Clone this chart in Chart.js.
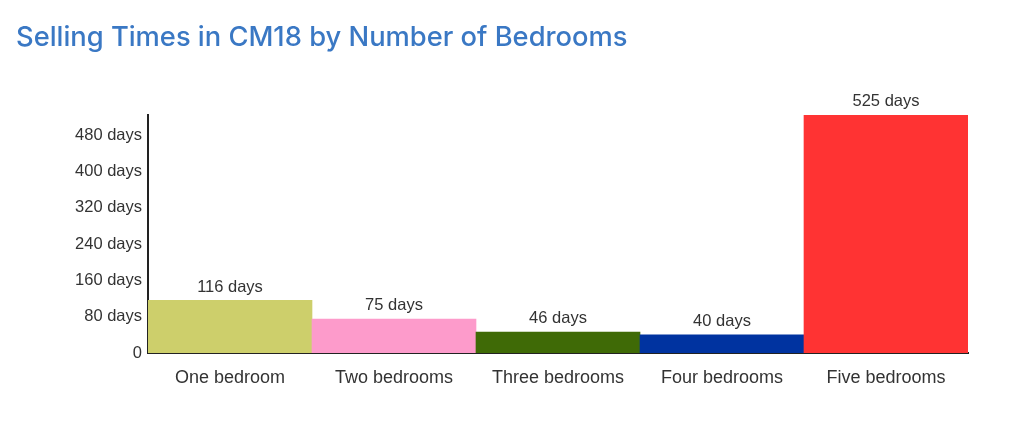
<!DOCTYPE html>
<html>
<head>
<meta charset="utf-8">
<script src="https://cdn.jsdelivr.net/npm/chart.js@4"></script>
<style>
html,body{margin:0;padding:0;background:#fff;}
#wrap{position:relative;width:1024px;height:447px;}
h1{position:absolute;left:16px;top:20px;margin:0;font-family:Inter,"Open Sans",sans-serif;font-weight:500;font-size:27.3px;color:#3a78c4;letter-spacing:0px;}
#c{position:absolute;left:0;top:0;}
</style>
</head>
<body>
<div id="wrap">
<canvas id="c" width="1024" height="447"></canvas>
<h1>Selling Times in CM18 by Number of Bedrooms</h1>
</div>
<script>
const categories = ["One bedroom", "Two bedrooms", "Three bedrooms", "Four bedrooms", "Five bedrooms"];
const sellingDays = [116, 75, 46, 40, 525];
const barColors = ["#cdcf6b", "#fd9bcb", "#3f6a06", "#0033a0", "#ff3333"];
const yTicks = [0, 80, 160, 240, 320, 400, 480];

const valueLabels = {
  id: 'valueLabels',
  afterDatasetsDraw(chart) {
    const ctx = chart.ctx;
    const meta = chart.getDatasetMeta(0);
    ctx.save();
    ctx.font = '16.5px "Liberation Sans", Arial, sans-serif';
    ctx.fillStyle = '#333';
    ctx.textAlign = 'center';
    ctx.textBaseline = 'bottom';
    meta.data.forEach((bar, i) => {
      ctx.fillText(sellingDays[i] + ' days', bar.x, bar.y - 5);
    });
    ctx.restore();
  }
};

new Chart(document.getElementById('c'), {
  type: 'bar',
  data: {
    labels: categories,
    datasets: [{
      data: sellingDays,
      backgroundColor: barColors,
      borderWidth: 0,
      barPercentage: 1,
      categoryPercentage: 1
    }]
  },
  options: {
    responsive: false,
    animation: false,
    devicePixelRatio: 1,
    layout: { padding: { left: 0, right: 56, top: 115, bottom: 58 } },
    plugins: { legend: { display: false }, tooltip: { enabled: false }, title: { display: false } },
    scales: {
      x: {
        afterFit(scale) { scale.height = 36; },
        grid: { display: false, drawTicks: false },
        border: { display: true, color: '#222', width: 2 },
        ticks: { color: '#333', font: { family: '"Liberation Sans", Arial, sans-serif', size: 18 }, padding: 14 }
      },
      y: {
        min: 0,
        max: 525,
        afterFit(scale) { scale.width = 148; },
        afterBuildTicks(scale) { scale.ticks = yTicks.map(v => ({ value: v })); },
        grid: { display: false, drawTicks: false },
        border: { display: true, color: '#222', width: 2 },
        ticks: {
          color: '#333',
          font: { family: '"Liberation Sans", Arial, sans-serif', size: 16.5 },
          padding: 6,
          callback: v => v === 0 ? '0' : v + ' days'
        }
      }
    }
  },
  plugins: [valueLabels]
});
</script>
</body>
</html>
